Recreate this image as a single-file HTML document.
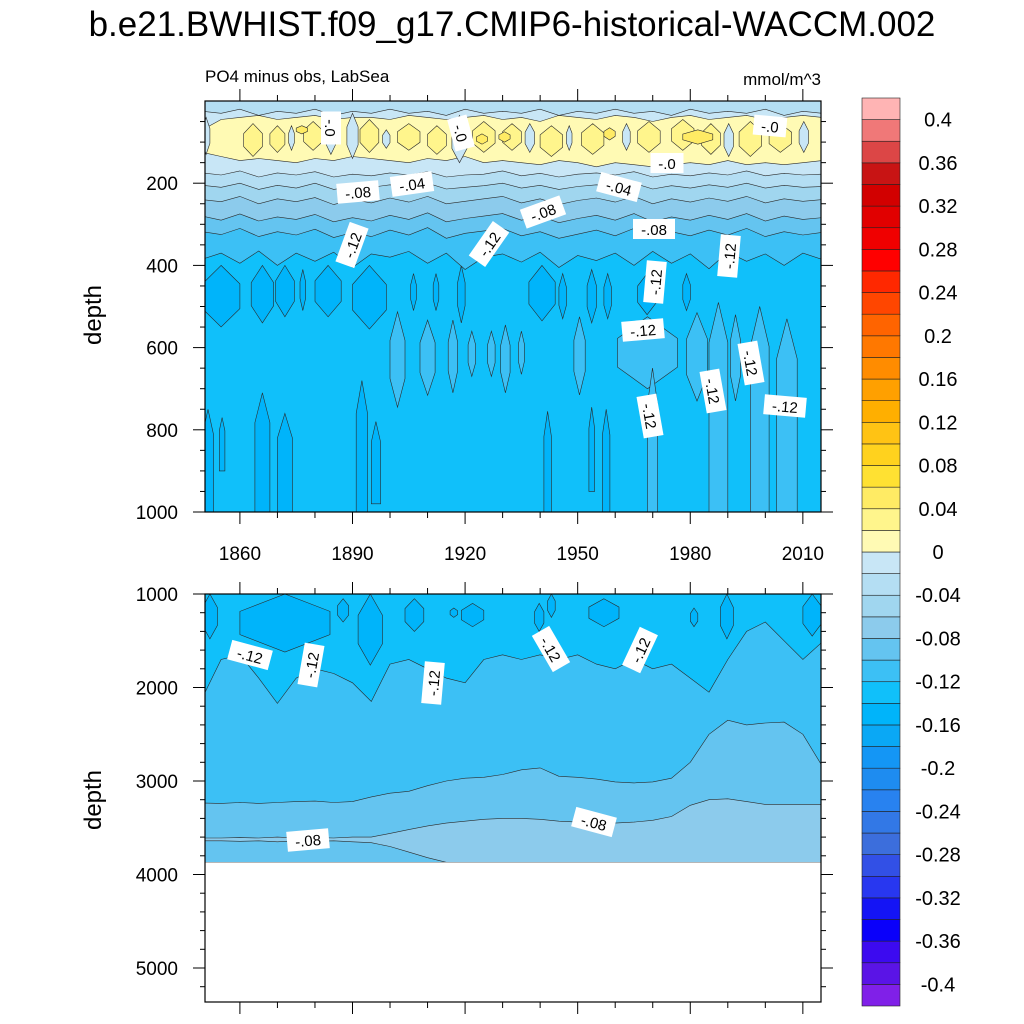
<!DOCTYPE html>
<html><head><meta charset="utf-8"><style>
html,body{margin:0;padding:0;background:#fff;}
svg{display:block;font-family:"Liberation Sans",sans-serif;}
</style></head><body>
<svg id="chart" width="1024" height="1024" viewBox="0 0 1024 1024" xmlns="http://www.w3.org/2000/svg">
<defs>
<clipPath id="clipTop"><rect x="205" y="101" width="616" height="411"/></clipPath>
<clipPath id="clipBot"><rect x="205" y="594" width="616" height="408"/></clipPath>
</defs>
<text x="512" y="36" text-anchor="middle" font-size="35">b.e21.BWHIST.f09_g17.CMIP6-historical-WACCM.002</text>
<text x="205" y="82" font-size="17">PO4 minus obs, LabSea</text>
<text x="821" y="85" font-size="17" text-anchor="end">mmol/m^3</text>
<text transform="translate(101,315) rotate(-90)" text-anchor="middle" font-size="24">depth</text>
<text transform="translate(101,800) rotate(-90)" text-anchor="middle" font-size="24">depth</text>
<g id="topFill" clip-path="url(#clipTop)"></g>
<g id="botFill" clip-path="url(#clipBot)"></g>
<g id="labels"></g>
<g id="axes"></g>
<g id="cbar"></g>
</svg>
<script>
// ---- data ----
const levelColors = ["#8020e8","#5a14e6","#3c0af0","#0a00fa","#1414f5","#2837f0","#3250e6","#3c6edc","#3278e6","#2882f0","#1e8cf0","#1496f5","#0aa8f5","#00b4fa","#10c0fa","#3cc0f5","#64c4f0","#8ccbec","#a0d6ef","#b4def3","#c8e6f6",
"#fffab4","#fff58c","#ffeb64","#ffe132","#ffd21e","#ffc314","#ffaf00","#ffa000","#ff8c00","#ff7800","#ff6400","#ff4600","#ff2800","#ff0000","#f00000","#e10000","#d20000","#c81414","#dc4646","#f07878","#ffb4b4"];
const cbarLabels = ["0.4","0.36","0.32","0.28","0.24","0.2","0.16","0.12","0.08","0.04","0","-0.04","-0.08","-0.12","-0.16","-0.2","-0.24","-0.28","-0.32","-0.36","-0.4"];
const years = [1850,1855,1860,1865,1870,1875,1880,1885,1890,1895,1900,1905,1910,1915,1920,1925,1930,1935,1940,1945,1950,1955,1960,1965,1970,1975,1980,1985,1990,1995,2000,2005,2010,2015];
const surfaceDepth = [25,30,20,35,25,30,20,35,25,30,20,30,25,35,20,30,25,30,20,35,25,30,20,30,25,35,20,30,25,30,20,35,25,30];
const yellowTop = [70,45,40,35,45,40,35,45,40,40,45,35,40,45,40,35,45,40,50,35,40,45,35,40,50,40,35,45,40,35,45,40,35,40];
const yellowBot = [125,135,145,140,145,150,140,145,135,140,145,150,140,145,135,150,145,150,155,145,150,160,150,155,160,155,150,155,145,155,150,155,150,145];
const b02 = [175,180,170,185,175,180,172,185,178,182,175,180,172,185,180,178,170,182,176,185,178,175,180,172,185,178,182,175,180,170,182,176,180,178];
const b04 = [205,210,200,215,205,212,200,215,208,210,204,212,200,214,210,206,200,212,205,215,208,204,210,200,214,206,212,204,210,200,212,205,210,208];
const b06 = [240,245,232,250,238,245,235,252,240,248,236,246,232,250,244,238,232,248,238,252,242,236,246,232,250,238,246,236,244,232,248,238,244,240];
const b08 = [280,290,275,292,282,288,276,294,284,292,278,288,272,294,286,280,274,290,280,296,286,278,290,274,294,282,290,278,288,274,292,280,288,284];
const b10 = [318,325,310,330,318,326,312,332,320,330,314,326,308,334,322,316,310,328,318,334,324,314,328,310,332,318,328,314,326,310,330,318,326,320];
const b12 = [385,370,395,365,400,370,390,368,405,372,380,366,395,370,410,380,372,392,368,405,376,388,370,400,366,395,372,408,368,390,372,400,370,385];
const lightHoles = [[1850,1852,40,130],[1883,1885.5,50,130],[1888.5,1891.5,30,140],[1916.5,1920.5,35,150],[1898,1900,70,115],[1936,1938.5,55,125],[1962,1964,55,120],[1989,1991.5,55,135],[2009,2011.5,50,125],[1873,1874.5,60,120],[1947,1948.5,60,120]];
const deepYellow = [[1861,1866,55,135],[1868,1872,60,125],[1877,1882,50,120],[1892,1897,45,125],[1902,1908,55,120],[1910,1915,60,130],[1922,1928,50,125],[1930,1935,55,120],[1940,1946,60,135],[1951,1957,55,130],[1966,1972,50,125],[1975,1981,45,120],[1983,1988,55,130],[1993,1999,50,135],[2001,2007,55,125]];
const deepYellow2 = [[1978,1986,70,105],[1957,1960,65,95],[1929,1932,75,100],[1875,1878,60,80],[1923,1926,80,105]];
const darkTop = [[1850,1860,400,550],[1863,1869,400,540],[1869.5,1874.5,400,525],[1876,1877.5,410,510],[1880,1887,400,525],[1890,1899,400,555],[1905.5,1907,420,510],[1911.5,1913,420,510],[1918,1920,400,540],[1937,1944,400,535],[1945,1947,420,530],[1952.5,1955,410,540],[1957,1959,420,530],[1966,1971,420,520],[1978,1980,420,510]];
const lightMid = [[1900,1904,513,745],[1908,1912,533,716],[1915.5,1918,533,710],[1920.8,1922.8,560,670],[1926,1928,560,670],[1929.5,1932,545,710],[1934.2,1935.8,560,665],[1949,1952,525,715],[1960.6,1976.6,525,700],[1979,1984.6,515,730],[1990.7,1993.4,520,730]];
const lightDeep = [[1968.6,1971.3,650,1000],[1985,1990,490,1000],[1996,2001,500,1000],[2003,2008.5,530,1000]];
const darkDeep = [[1850,1853,750,1000],[1854.5,1856,770,900],[1864,1868,710,1000],[1870,1874,760,1000],[1891,1894,680,1000],[1895,1897.5,780,980],[1941,1943,755,1000],[1953,1954.5,745,950],[1956.6,1958.6,750,1000]];
const c12 = [2110,1700,1650,1900,2170,1900,1800,1850,1950,2150,1750,1700,1800,1900,1950,1700,1650,1700,1650,1700,1650,1750,1800,1700,1800,1750,1900,2050,1700,1400,1300,1500,1700,1520];
const c10 = [3235,3240,3230,3240,3230,3220,3215,3230,3220,3170,3130,3110,3050,3000,2970,2960,2930,2880,2860,2950,2960,2980,3010,3020,3010,2970,2800,2500,2350,2400,2380,2370,2500,2830];
const c08 = [3610,3610,3605,3610,3600,3610,3605,3610,3600,3600,3560,3520,3480,3450,3430,3410,3400,3400,3410,3430,3440,3450,3450,3440,3420,3380,3260,3200,3190,3220,3250,3250,3250,3250];
const c08low = [3640,3640,3645,3640,3650,3640,3645,3640,3650,3660,3700,3760,3820,3870,3870,3870,3870,3870,3870,3870,3870,3870,3870,3870,3870,3870,3870,3870,3870,3870,3870,3870,3870,3870];
const darkBot = [[1850,1854,1000,1480],[1860,1884,1000,1620],[1886,1889,1050,1300],[1891.5,1898,1000,1760],[1904,1909,1050,1400],[1916,1918,1150,1250],[1919,1925,1100,1350],[1938.5,1941,1100,1400],[1942,1944,1000,1250],[1953,1961,1050,1350],[1980,1982,1150,1350],[1988,1991.5,1000,1480],[2010,2015,1000,1450]];
const dataBottomDepth = 3870;
// ---- scales ----
const xs = yr => 205 + (yr - 1850.7) * 3.753;
const yT = d => 101 + d * 0.411;
const yB = d => 594 + (d - 1000) * 0.0935;
const NS = "http://www.w3.org/2000/svg";
function mk(tag, attrs, parent){const e=document.createElementNS(NS,tag);for(const k in attrs)e.setAttribute(k,attrs[k]);parent.appendChild(e);return e;}
const STROKE = "#2b2b2b";
function band(parent, topArr, botArr, fy, color, name){
  let pts = years.map((yr,i)=>xs(yr).toFixed(1)+","+fy(botArr[i]).toFixed(1));
  let tp = years.map((yr,i)=>xs(yr).toFixed(1)+","+fy(topArr[i]).toFixed(1)).reverse();
  const p = mk("polygon",{points:pts.concat(tp).join(" "),fill:color,stroke:STROKE,"stroke-width":0.6},parent);
  
  
}
function fromTop(parent, arr, fy, d0, color, name){
  band(parent, years.map(()=>d0), arr, fy, color, name);
}
function patch(parent, p, fy, color, name, shape){
  const x0=xs(p[0]), x1=xs(p[1]), yt=fy(p[2]), yb=fy(p[3]), xc=(x0+x1)/2, h=yb-yt;
  let pts;
  if(shape==="ell") pts=[[xc,yt],[x1,yt+h*0.3],[x1,yt+h*0.7],[xc,yb],[x0,yt+h*0.7],[x0,yt+h*0.3]];
  else pts=[[xc,yt],[x1,yt+Math.min(h*0.25,40)],[x1,yb],[x0,yb],[x0,yt+Math.min(h*0.25,40)]];
  const e = mk("polygon",{points:pts.map(q=>q[0].toFixed(1)+","+q[1].toFixed(1)).join(" "),fill:color,stroke:STROKE,"stroke-width":0.6},parent);
  
  
}
// ---- top panel ----
const gT = document.getElementById("topFill");
mk("rect",{x:205,y:101,width:616,height:411,fill:"#10c0fa"},gT);
darkTop.forEach(p=>patch(gT,p,yT,"#00b4fa","dark-patch","ell"));
lightMid.forEach(p=>patch(gT,p,yT,"#3cc0f5","light-patch","ell"));
lightDeep.forEach(p=>patch(gT,p,yT,"#3cc0f5","light-strip","strip"));
darkDeep.forEach(p=>patch(gT,p,yT,"#00b4fa","dark-strip","strip"));
fromTop(gT,b12,yT,-10,"#3cc0f5","band-m012");
fromTop(gT,b10,yT,-10,"#64c4f0","band-m010");
fromTop(gT,b08,yT,-10,"#8ccbec","band-m008");
fromTop(gT,b06,yT,-10,"#a0d6ef","band-m006");
fromTop(gT,b04,yT,-10,"#b4def3","band-m004");
fromTop(gT,b02,yT,-10,"#c8e6f6","band-m002");
band(gT,yellowTop,yellowBot,yT,"#fffab4","band-yellow");
deepYellow.forEach(p=>patch(gT,p,yT,"#fff58c","yellow-patch","ell"));
deepYellow2.forEach(p=>patch(gT,p,yT,"#ffeb64","yellow-core","ell"));
lightHoles.forEach(p=>patch(gT,p,yT,"#c8e6f6","blue-hole","ell"));
fromTop(gT,surfaceDepth,yT,-10,"#b4def3","surface-band");
// ---- bottom panel ----
const gB = document.getElementById("botFill");
mk("rect",{x:205,y:594,width:616,height:yB(dataBottomDepth)-594,fill:"#3cc0f5"},gB);
fromTop(gB,c12,yB,900,"#10c0fa","band-m012-bottom");
darkBot.forEach(p=>patch(gB,p,yB,"#00b4fa","dark-patch-bottom","ell"));
band(gB,c10,years.map(()=>dataBottomDepth),yB,"#64c4f0","band-m010-bottom");
band(gB,c08,c08low,yB,"#8ccbec","band-m008-bottom");
mk("rect",{x:200,y:yB(dataBottomDepth),width:630,height:1002-yB(dataBottomDepth),fill:"#fff"},gB);
// ---- labels ----
const lab = document.getElementById("labels");
const cl = [["-.0",331,128,90],["-.0",461,133,75],["-.0",770,126,5],["-.0",667,163,0],["-.08",358,192,-5],["-.04",412,184,-8],["-.04",619,187,15],["-.08",543,212,-20],["-.08",654,229,0],["-.12",352,245,-70],["-.12",489,244,-55],["-.12",729,256,-85],["-.12",655,282,-85],["-.12",643,330,-5],["-.12",751,363,80],["-.12",713,391,80],["-.12",650,416,80],["-.12",785,406,5],
["-.12",250,655,15],["-.12",311,665,-80],["-.12",433,683,-85],["-.12",551,649,60],["-.12",640,650,-65],["-.08",308,840,-5],["-.08",594,822,15]];
cl.forEach(c=>{
  const g = mk("g",{transform:`translate(${c[1]},${c[2]}) rotate(${c[3]})`},lab);
  
  
  const w = c[0].length*9+6;
  mk("rect",{x:-w/2,y:-10,width:w,height:20,fill:"#fff"},g);
  const t = mk("text",{x:0,y:6,"text-anchor":"middle","font-size":15},g);
  t.textContent=c[0];
});
// ---- axes ----
const ax = document.getElementById("axes");
function line(x1,y1,x2,y2,w){mk("line",{x1,y1,x2,y2,stroke:"#000","stroke-width":w||1},ax);}
function panelAxes(pTop,pBot,fy,dTicks,dMinor,xlabels){
  mk("rect",{x:205,y:pTop,width:616,height:pBot-pTop,fill:"none",stroke:"#000","stroke-width":1.2},ax);
  for(let yr=1860;yr<=2010;yr+=10){
    const x=xs(yr), major=(yr-1860)%30===0, L=major?12:6;
    line(x,pBot,x,pBot+L); line(x,pTop,x,pTop-L);
    if(major && xlabels){const t=mk("text",{x:x,y:560,"text-anchor":"middle","font-size":19},ax);t.textContent=yr;}
  }
  dMinor.forEach(d=>{const y=fy(d);line(205,y,200,y);line(821,y,826,y);});
  dTicks.forEach(d=>{const y=fy(d);line(205,y,193,y);line(821,y,833,y);
    const t=mk("text",{x:178,y:y+7,"text-anchor":"end","font-size":19},ax);t.textContent=d;});
}
panelAxes(101,512,yT,[200,400,600,800,1000],[50,100,150,250,300,350,450,500,550,650,700,750,850,900,950],true);
panelAxes(594,1002,yB,[1000,2000,3000,4000,5000],[1200,1400,1600,1800,2200,2400,2600,2800,3200,3400,3600,3800,4200,4400,4600,4800,5200],false);
// ---- colorbar ----
const cb = document.getElementById("cbar");
const nBoxes = levelColors.length, cbTop=98, boxH=(1006-98)/nBoxes;
levelColors.forEach((c,i)=>{
  const r = mk("rect",{x:862,y:(1006-(i+1)*boxH).toFixed(2),width:38,height:boxH.toFixed(2),fill:c,stroke:"#222","stroke-width":0.6},cb);
  
  
});
cbarLabels.forEach((s,i)=>{
  const y = cbTop + boxH*(1+2*i);
  const t = mk("text",{x:938,y:y+7,"text-anchor":"middle","font-size":20},cb);
  t.textContent=s;
  
  
});
</script>
</body></html>
